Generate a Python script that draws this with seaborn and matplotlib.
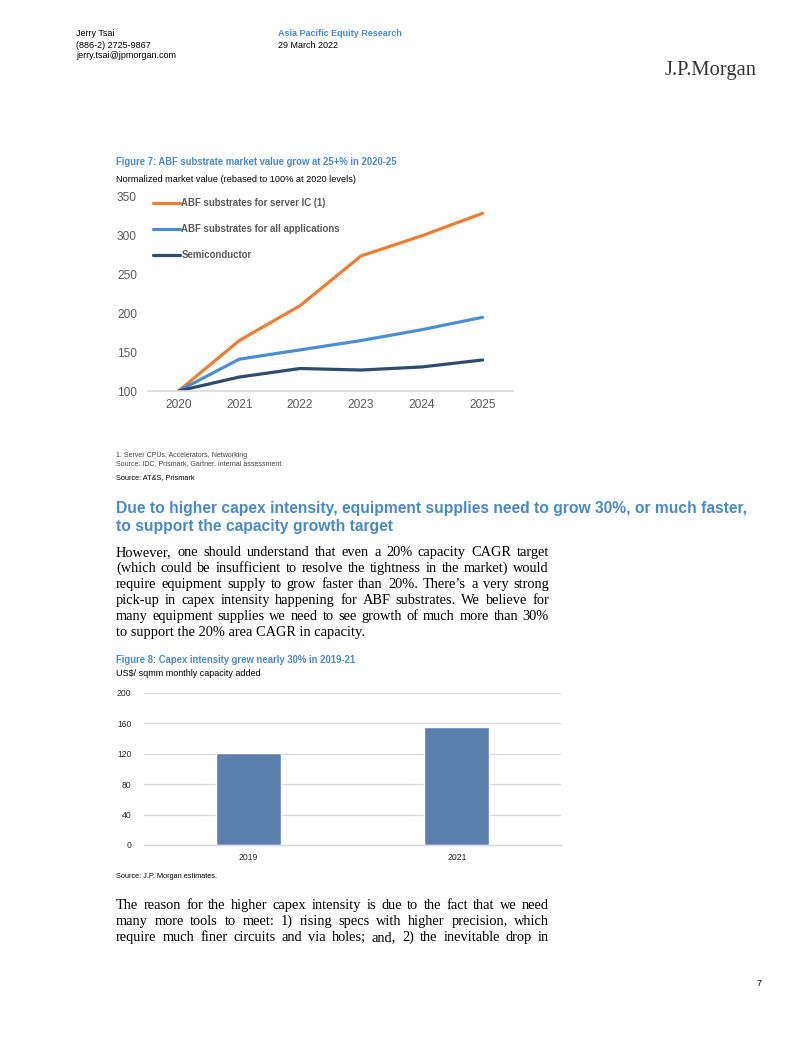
import numpy as np
import pandas as pd
import matplotlib
matplotlib.use('Agg')
import matplotlib.pyplot as plt
from matplotlib import font_manager
import seaborn as sns

# page size in pixels (dpi 100)
W, H = 802, 1037

# --- data -------------------------------------------------------------
years = [2020, 2021, 2022, 2023, 2024, 2025]
abf_server = [100, 165, 210, 274, 300, 329]
abf_all = [100, 141, 153, 165, 179, 195]
semis = [100, 118, 129, 127, 131, 140]
series_names = ['ABF substrates for server IC (1)',
                'ABF substrates for all applications',
                'Semiconductor']
line_colors = ['#ED7D31', '#4A8FD6', '#2F4B6E']
fig7_yticks = [100, 150, 200, 250, 300, 350]

capex_years = ['2019', '2021']
capex_intensity = [121, 155]
fig8_yticks = [0, 40, 80, 120, 160, 200]

para1 = [
    "However, one should understand that even a 20% capacity CAGR target",
    "(which could be insufficient to resolve the tightness in the market) would",
    "require equipment supply to grow faster than 20%. There\u2019s a very strong",
    "pick-up in capex intensity happening for ABF substrates. We believe for",
    "many equipment supplies we need to see growth of much more than 30%",
    "to support the 20% area CAGR in capacity.",
]
para2 = [
    "The reason for the higher capex intensity is due to the fact that we need",
    "many more tools to meet: 1) rising specs with higher precision, which",
    "require much finer circuits and via holes; and, 2) the inevitable drop in",
]

BLUE = '#4A89C8'
GREY = '#595959'


def has_font(name):
    try:
        font_manager.findfont(font_manager.FontProperties(family=name),
                              fallback_to_default=False)
        return True
    except Exception:
        return False


sns.set_theme(style='white')
plt.rcParams['font.family'] = ['Liberation Sans', 'DejaVu Sans']
SANS = 'Liberation Sans'
SERIF = 'Liberation Serif'
if has_font('Liberation Sans Narrow'):
    NARROW, NS = 'Liberation Sans Narrow', 1.0
else:
    NARROW, NS = 'Liberation Sans', 0.82

fig = plt.figure(figsize=(W / 100, H / 100), dpi=100)
fig.patch.set_facecolor('white')


def put(x, y, s, **kw):
    kw.setdefault('va', 'center')
    return fig.text(x / W, 1 - y / H, s, **kw)


def justify(lines, x0, x1, base, step, last_full=False, **kw):
    r = fig.canvas.get_renderer()
    for i, line in enumerate(lines):
        y = base + i * step
        if i == len(lines) - 1 and not last_full:
            put(x0, y, line, va='baseline', **kw)
            continue
        words = line.split(' ')
        texts = [put(x0, y, w, va='baseline', **kw) for w in words]
        widths = [t.get_window_extent(r).width for t in texts]
        gap = (x1 - x0 - sum(widths)) / (len(words) - 1)
        x = x0
        for t, w in zip(texts, widths):
            t.set_x(x / W)
            x += w + gap


# --- header -----------------------------------------------------------
for i, s in enumerate(['Jerry Tsai', '(886-2) 2725-9867', 'jerry.tsai@jpmorgan.com']):
    put(76, 34 + 11 * i, s, fontsize=6.5, family=SANS, color='black')
put(278, 34, 'Asia Pacific Equity Research', fontsize=6.5, family=SANS,
    weight='bold', color=BLUE)
put(278, 45, '29 March 2022', fontsize=6.5, family=SANS, color='black')
put(757, 70, 'J.P.Morgan', fontsize=14.8, family=SERIF, color='#333333', ha='right')

# --- figure 7 ---------------------------------------------------------
put(116, 162, 'Figure 7: ABF substrate market value grow at 25+% in 2020-25',
    fontsize=8.4 * NS, family=NARROW, weight='bold', color=BLUE)
put(116, 179, 'Normalized market value (rebased to 100% at 2020 levels)',
    fontsize=6.6, family=SANS, color='black')

ax1 = fig.add_axes([148 / W, 1 - 391 / H, (513 - 148) / W, (391 - 197) / H])
df7 = pd.DataFrame({
    'year': years * 3,
    'value': abf_server + abf_all + semis,
    'series': np.repeat(series_names, len(years)),
})
sns.lineplot(data=df7, x='year', y='value', hue='series', palette=line_colors,
             linewidth=2.3, ax=ax1, legend=False)
ax1.set_xlim(2019.5, 2025.5)
ax1.set_ylim(100, 350)
ax1.set_xticks(years)
ax1.set_yticks(fig7_yticks)
ax1.set_xlabel('')
ax1.set_ylabel('')
for sp in ['top', 'right', 'left']:
    ax1.spines[sp].set_visible(False)
ax1.spines['bottom'].set_color('#D9D9D9')
ax1.spines['bottom'].set_linewidth(1.2)
ax1.tick_params(axis='both', length=0, labelsize=8.6, labelcolor=GREY)
ax1.tick_params(axis='y', pad=8)
ax1.tick_params(axis='x', pad=6)
ax1.patch.set_alpha(0)
leg = ax1.legend(ax1.lines[:3], series_names, loc='upper left',
                 bbox_to_anchor=(153 / W, 1 - 198.5 / H), bbox_transform=fig.transFigure,
                 frameon=False, borderpad=0, borderaxespad=0, handlelength=2.8,
                 handletextpad=0.15, labelspacing=1.65,
                 prop={'family': SANS, 'weight': 'bold', 'size': 6.9})
for t in leg.get_texts():
    t.set_color(GREY)

put(116, 456, '1. Server CPUs, Accelerators, Networking', fontsize=5.0,
    family=SANS, color='#404040')
put(116, 464, 'Source: IDC, Prismark, Gartner, internal assessment', fontsize=5.0,
    family=SANS, color='#404040')
put(116, 478, 'Source: AT&S, Prismark', fontsize=5.3, family=SANS, color='black')

# --- heading and body ---------------------------------------------------
put(116, 508, 'Due to higher capex intensity, equipment supplies need to grow 30%, or much faster,',
    fontsize=11.25, family=SANS, weight='bold', color=BLUE)
put(116, 527, 'to support the capacity growth target',
    fontsize=11.25, family=SANS, weight='bold', color=BLUE)

justify(para1, 116, 549, 556, 16, fontsize=10.4, family=SERIF, color='black')

# --- figure 8 ---------------------------------------------------------
put(116, 660, 'Figure 8: Capex intensity grew nearly 30% in 2019-21',
    fontsize=8.4 * NS, family=NARROW, weight='bold', color=BLUE)
put(116, 673, 'US$/ sqmm monthly capacity added',
    fontsize=7.9 * NS, family=NARROW, color='black')

ax2 = fig.add_axes([144 / W, 1 - 845 / H, (561 - 144) / W, (845 - 693) / H])
sns.barplot(x=capex_years, y=capex_intensity, color='#5B7FAD', saturation=1,
            width=0.31, ax=ax2)
ax2.set_xlim(-0.5, 1.5)
ax2.set_ylim(0, 200)
ax2.set_yticks(fig8_yticks)
ax2.set_axisbelow(True)
ax2.yaxis.grid(True, color='#D9D9D9', linewidth=1.0)
ax2.xaxis.grid(False)
for sp in ['top', 'right', 'left']:
    ax2.spines[sp].set_visible(False)
ax2.spines['bottom'].set_color('#D9D9D9')
ax2.spines['bottom'].set_linewidth(1.0)
ax2.set_xticks([0.5], minor=True)
ax2.tick_params(axis='both', which='major', length=0, labelsize=7.6 * NS,
                labelcolor='#262626')
ax2.tick_params(axis='x', which='minor', length=3, color='#D9D9D9', width=1,
                direction='out')
ax2.tick_params(axis='y', pad=9)
ax2.tick_params(axis='x', pad=6)
for lab in ax2.get_xticklabels() + ax2.get_yticklabels():
    lab.set_family(NARROW)
ax2.patch.set_alpha(0)

put(116, 876, 'Source: J.P. Morgan estimates.', fontsize=6.5 * NS,
    family=NARROW, color='black')

justify(para2, 116, 549, 909, 16, last_full=True, fontsize=10.4, family=SERIF,
        color='black')

put(759, 983, '7', fontsize=6.5, family=SANS, color='black', ha='center')

fig.savefig('out.png', dpi=100, facecolor='white')
